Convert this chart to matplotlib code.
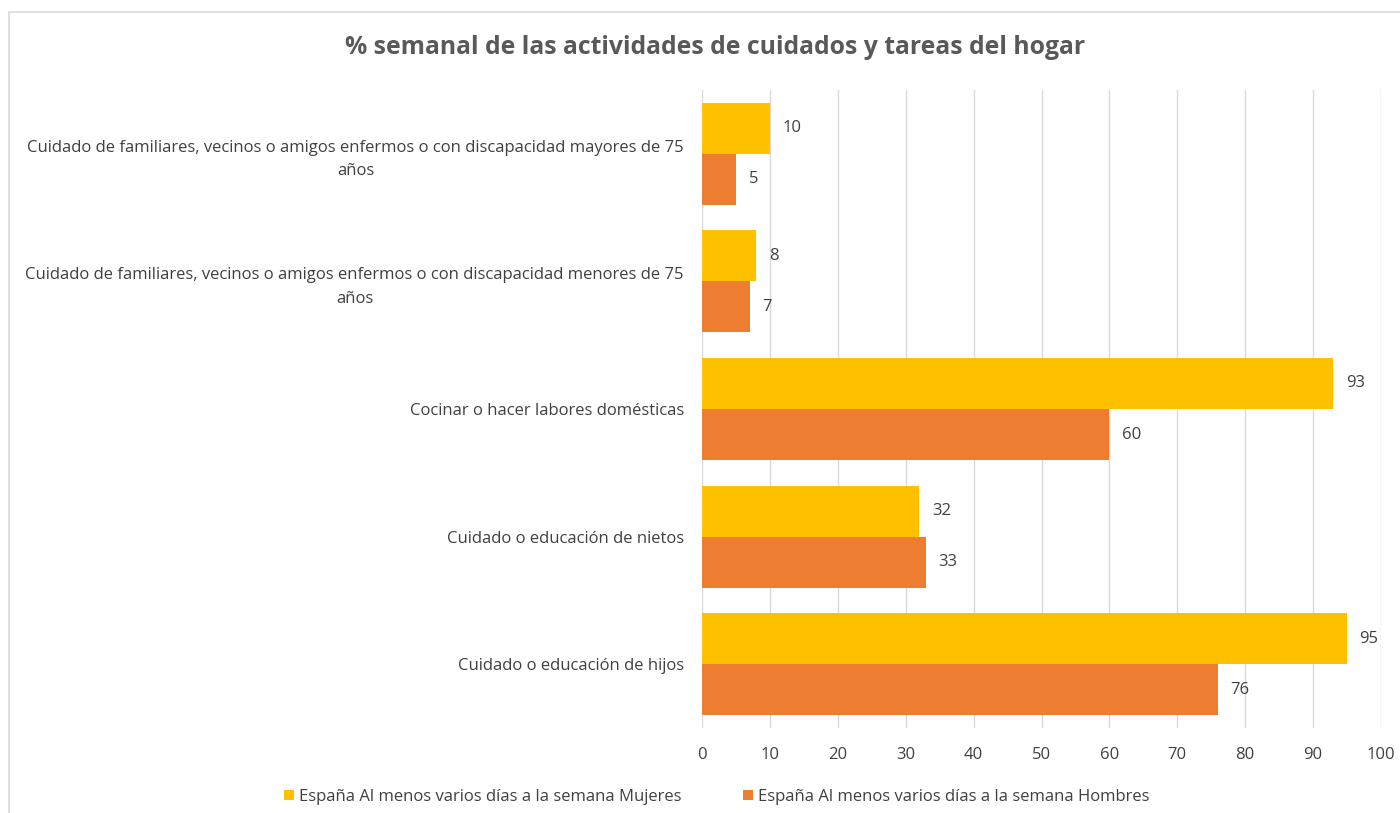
import matplotlib
matplotlib.use("Agg")
import matplotlib.pyplot as plt
from matplotlib.patches import Rectangle
import numpy as np

plt.rcParams['font.family'] = ['Open Sans', 'DejaVu Sans']

categories = [
    "Cuidado de familiares, vecinos o amigos enfermos o con discapacidad mayores de 75\naños",
    "Cuidado de familiares, vecinos o amigos enfermos o con discapacidad menores de 75\naños",
    "Cocinar o hacer labores domésticas",
    "Cuidado o educación de nietos",
    "Cuidado o educación de hijos",
]
mujeres = [10, 8, 93, 32, 95]
hombres = [5, 7, 60, 33, 76]
series_names = ["España Al menos varios días a la semana Mujeres",
                "España Al menos varios días a la semana Hombres"]
xticks = list(range(0, 101, 10))

C_MUJ = "#FFC000"
C_HOM = "#ED7D31"
TXT = "#404040"
FS = 12

fig = plt.figure(figsize=(14, 8.13), dpi=100)
fig.patch.set_facecolor("white")
fig.patches.append(Rectangle((9/1400, -0.01), 1.02, 1 - 12/813 + 0.01,
                             transform=fig.transFigure, fill=False,
                             edgecolor="#D9D9D9", linewidth=1.2))

ax = fig.add_axes([702/1400, 1 - 728/813, (1381-702)/1400, (728-90)/813])
y = np.arange(len(categories))
h = 0.4
ax.barh(y - h/2, mujeres, height=h, color=C_MUJ, label=series_names[0], zorder=3)
ax.barh(y + h/2, hombres, height=h, color=C_HOM, label=series_names[1], zorder=3)

for yi, v in zip(y, mujeres):
    ax.annotate(str(v), (v, yi - h/2), xytext=(9, 0), textcoords="offset points",
                va="center", ha="left", fontsize=FS, color=TXT)
for yi, v in zip(y, hombres):
    ax.annotate(str(v), (v, yi + h/2), xytext=(9, 0), textcoords="offset points",
                va="center", ha="left", fontsize=FS, color=TXT)

ax.set_xlim(0, 100)
ax.set_ylim(len(categories) - 0.5, -0.5)
ax.set_xticks(xticks)
ax.set_xticklabels([str(t) for t in xticks], fontsize=FS, color=TXT)
ax.set_yticks(y)
ax.set_yticklabels(categories, fontsize=FS, color=TXT)
for lbl in ax.get_yticklabels():
    lbl.set_multialignment("center")
    lbl.set_linespacing(1.6)
ax.tick_params(axis="both", length=0)
ax.tick_params(axis="x", pad=14)
ax.tick_params(axis="y", pad=13)
ax.grid(axis="x", color="#D9D9D9", linewidth=1, zorder=0)
for s in ax.spines.values():
    s.set_visible(False)

fig.text(0.5105, 1 - 48/813, "% semanal de las actividades de cuidados y tareas del hogar",
         ha="center", va="center", fontsize=17.8, fontweight="bold", color="#595959")

fig.legend(loc="center", bbox_to_anchor=(0.512, 1 - 797/813), ncol=2, frameon=False,
           fontsize=FS, handlelength=0.6, handleheight=0.6, columnspacing=3.7,
           handletextpad=0.3, labelcolor=TXT)

fig.savefig("out.png", dpi=100, facecolor="white")
